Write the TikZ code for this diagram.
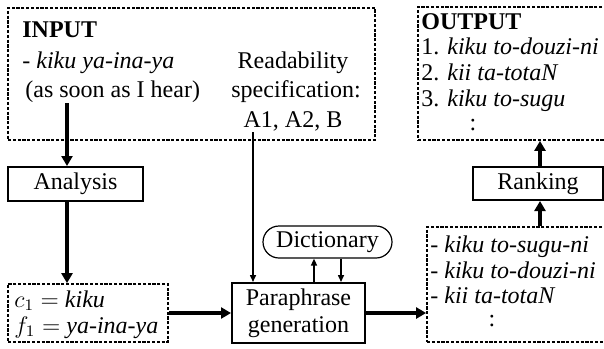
\documentclass[tikz,border=0pt]{standalone}
\usepackage{fontspec}
\setmainfont{Liberation Serif}
\usetikzlibrary{arrows.meta,shapes.misc}
\begin{document}
\begin{tikzpicture}[x=0.5pt,y=-0.5pt,
 dbox/.style={draw, line width=0.9pt, dash pattern=on 1.6pt off 0.8pt, inner sep=0pt},
 sbox/.style={draw, line width=1pt, inner sep=0pt, align=center, font=\fontsize{12}{13.5}\selectfont},
 txt/.style={inner sep=0pt, anchor=base west, font=\fontsize{12}{13.5}\selectfont},
 txtb/.style={txt, font=\fontsize{12}{13.5}\selectfont\bfseries},
 bigarrow/.style={line width=2pt, -{Triangle[length=5pt,width=5.5pt]}},
 smallarrow/.style={line width=0.75pt, -{Triangle[length=3.5pt,width=3pt]}}]
\useasboundingbox (0,0) rectangle (604,348);
\clip (0,0) rectangle (604,348);

% dashed boxes
\node[dbox, minimum width=183.5pt, minimum height=66pt] (input) at (191.5,74) {};
\node[dbox, minimum width=110pt, minimum height=66.5pt] (output) at (528,73.5) {};
\node[dbox, minimum width=80pt, minimum height=29pt] (cf) at (88,313) {};
\node[dbox, minimum width=105pt, minimum height=57.5pt] (cand) at (532,284.5) {};

% solid boxes
\node[sbox, minimum width=67.5pt, minimum height=17pt] (an) at (75.5,184) {Analysis};
\node[sbox, minimum width=65pt, minimum height=16.5pt] (rk) at (538,183.5) {Ranking};
\node[sbox, minimum width=66.5pt, minimum height=30pt] (pg) at (298.5,313) {Paraphrase\\generation};
\node[sbox, line width=0.6pt, rounded rectangle, minimum width=64.5pt, minimum height=16pt] (dict) at (327.5,242) {Dictionary};

% input texts
\node[txtb] (inlbl) at (22,37) {INPUT};
\node[txt] (in1) at (22,68) {- \textit{kiku ya-ina-ya}};
\node[txt] (in2) at (25,97) {(as soon as I hear)};
\node[txt, anchor=base] (rd1) at (293,68) {Readability};
\node[txt, anchor=base] (rd2) at (296,97) {specification:};
\node[txt, anchor=base] (rd3) at (293,127) {A1, A2, B};

% output texts
\node[txtb] (outlbl) at (421,29) {OUTPUT};
\node[txt] (out1) at (421,54) {1. \textit{kiku to-douzi-ni}};
\node[txt] (out2) at (421,80) {2. \textit{kii ta-totaN}};
\node[txt] (out3) at (421,106) {3. \textit{kiku to-sugu}};
\node[txt, anchor=base] (out4) at (473,130) {:};

% c/f texts
\node[txt] (cf1) at (14,307) {$c_1 =$ \textit{kiku}};
\node[txt] (cf2) at (14,333) {$f_1 =$ \textit{ya-ina-ya}};

% candidate texts
\node[txt] (ca1) at (430,252) {- \textit{kiku to-sugu-ni}};
\node[txt] (ca2) at (430,278) {- \textit{kiku to-douzi-ni}};
\node[txt] (ca3) at (430,303) {- \textit{kii ta-totaN}};
\node[txt, anchor=base] (ca4) at (492,326) {:};

% connectors
\coordinate (inarr) at (67,103);
\coordinate (rx) at (540,0);
\coordinate (rdx) at (253,132);
\coordinate (d1) at (314,0);
\coordinate (d2) at (341,0);
\draw[bigarrow] (inarr) -- (inarr |- an.north);
\draw[bigarrow] (an.south -| inarr) -- (cf.north -| inarr);
\draw[bigarrow] (cf.east) -- (pg.west);
\draw[bigarrow] (pg.east) -- (pg.east -| cand.west);
\draw[bigarrow] (cand.north -| rx) -- (rk.south -| rx);
\draw[bigarrow] (rk.north -| rx) -- (output.south -| rx);
\draw[smallarrow] (rdx) -- (rdx |- pg.north);
\draw[smallarrow] (pg.north -| d1) -- (dict.south -| d1);
\draw[smallarrow] (dict.south -| d2) -- (pg.north -| d2);
\end{tikzpicture}
\end{document}
